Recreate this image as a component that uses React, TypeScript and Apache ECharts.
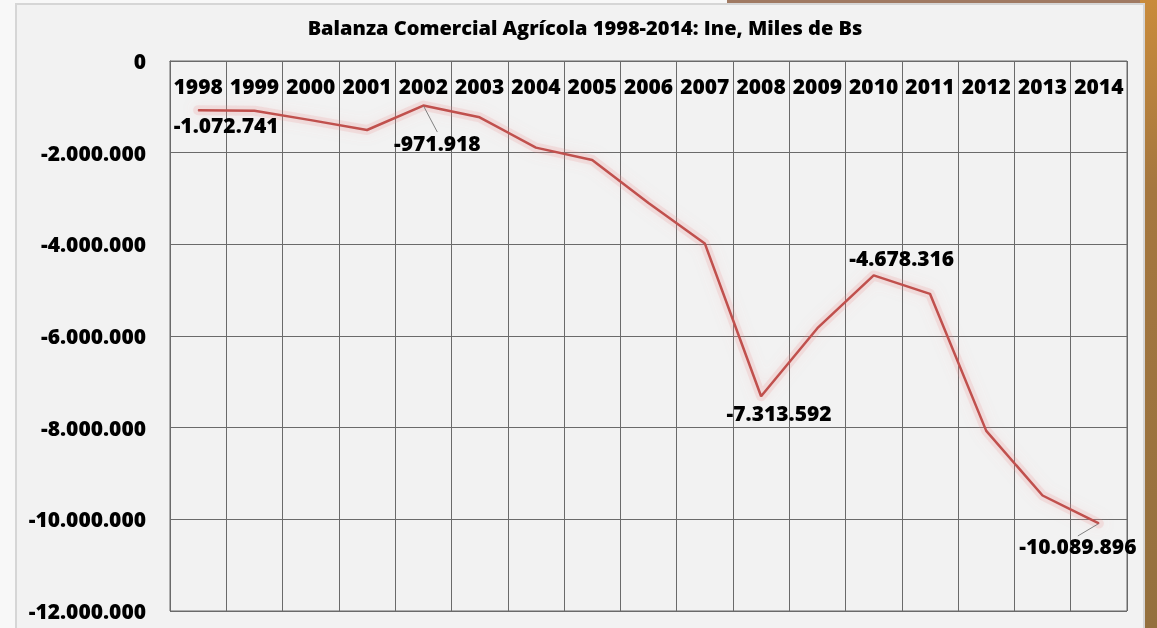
import React, { useEffect, useRef } from "react";
import * as echarts from "echarts";

const years = ["1998","1999","2000","2001","2002","2003","2004","2005","2006","2007","2008","2009","2010","2011","2012","2013","2014"];
const balance = [-1072741,-1085000,-1290000,-1505000,-971918,-1228000,-1890000,-2160000,-3100000,-3980000,-7313592,-5830000,-4678316,-5080000,-8070000,-9480000,-10089896];
// data labels: index -> [dx, dy, guide line]
const labelIdx = [0, 4, 10, 12, 16];
const labelShift: Record<number, [number, number, boolean]> = {
  0: [28, 15, false],
  4: [14, 37, true],
  10: [18, 17, false],
  12: [28, -17, false],
  16: [-21, 23, true],
};

const fmt = (v: number) => Math.round(v).toString().replace(/\B(?=(\d{3})+(?!\d))/g, ".");

export default function App() {
  const ref = useRef<HTMLDivElement>(null);
  useEffect(() => {
    const chart = echarts.init(ref.current!, null, { renderer: "svg" });
    const font = "'Open Sans', 'DejaVu Sans', sans-serif";
    const gridColor = "#6a6a6a";
    chart.setOption({
      animation: false,
      textStyle: { fontFamily: font },
      graphic: [
        { type: "rect", z: -10, silent: true, shape: { x: 0, y: 0, width: 1157, height: 628 }, style: { fill: "#f8f8f8" } },
        { type: "rect", z: -10, silent: true, shape: { x: 727, y: 0, width: 430, height: 6 }, style: { fill: "#a07a63" } },
        {
          type: "rect", z: -10, silent: true, shape: { x: 1140, y: 0, width: 17, height: 628 },
          style: { fill: new echarts.graphic.LinearGradient(0, 0, 0, 1, [{ offset: 0, color: "#c98b3b" }, { offset: 0.3, color: "#a5773f" }, { offset: 1, color: "#94703e" }]) },
        },
        { type: "rect", z: -9, silent: true, shape: { x: 16, y: 4, width: 1128, height: 640 }, style: { fill: "#f2f2f2", stroke: "#d6d6d6", lineWidth: 2 } },
      ],
      title: {
        text: "Balanza Comercial Agrícola 1998-2014: Ine, Miles de Bs",
        left: 580,
        textAlign: "center",
        top: 12,
        textStyle: { fontSize: 20, fontWeight: 800, color: "#000", fontFamily: font },
      },
      grid: { left: 170, top: 61, width: 957, height: 550, show: true, borderColor: gridColor, borderWidth: 1, backgroundColor: "transparent" },
      xAxis: {
        type: "category",
        data: years,
        position: "top",
        boundaryGap: true,
        axisLine: { show: true, lineStyle: { color: gridColor } },
        axisTick: { show: false },
        splitLine: { show: true, lineStyle: { color: gridColor, width: 1 } },
        axisLabel: { inside: true, margin: 14, fontSize: 21, fontWeight: 800, color: "#000", fontFamily: font, interval: 0 },
      },
      yAxis: {
        type: "value",
        min: -12000000,
        max: 0,
        interval: 2000000,
        axisLine: { show: true, lineStyle: { color: gridColor } },
        axisTick: { show: false },
        splitLine: { show: true, lineStyle: { color: gridColor, width: 1 } },
        axisLabel: { margin: 24, fontSize: 21, fontWeight: 800, color: "#000", fontFamily: font, formatter: (v: number) => fmt(v) },
      },
      series: [
        {
          type: "line",
          data: balance,
          symbol: "none",
          silent: true,
          z: 1,
          lineStyle: { color: "rgba(235,140,140,0.18)", width: 10, cap: "round", join: "round", shadowColor: "rgba(235,140,140,0.6)", shadowBlur: 12 },
        },
        {
          type: "line",
          z: 3,
          data: balance.map((v, i) =>
            labelIdx.includes(i)
              ? { value: v, label: { show: true }, labelLine: { show: labelShift[i][2], lineStyle: { color: "#808080", width: 1 } } }
              : v
          ),
          symbol: "circle",
          symbolSize: 1,
          showSymbol: true,
          itemStyle: { color: "#c0504d" },
          lineStyle: { color: "#c0504d", width: 2.5 },
          label: {
            show: false,
            position: "inside",
            fontSize: 21,
            fontWeight: 800,
            color: "#000",
            fontFamily: font,
            formatter: (p: any) => fmt(p.value),
          },
          labelLine: { show: false },
          labelLayout: (p: any) => {
            const s = labelShift[p.dataIndex];
            if (!s) return {};
            return { dx: s[0], dy: s[1] };
          },
        },
      ],
    });
    return () => chart.dispose();
  }, []);
  return <div ref={ref} style={{ position: "fixed", left: 0, top: 0, width: 1157, height: 628 }} />;
}
